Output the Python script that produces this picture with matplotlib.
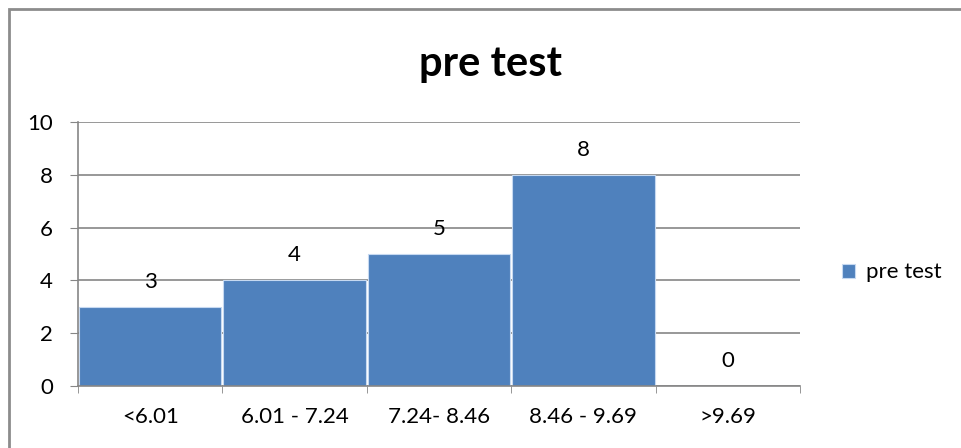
import matplotlib
matplotlib.use("Agg")
import matplotlib.pyplot as plt
from matplotlib.patches import Rectangle

# data
categories = ["<6.01", "6.01 - 7.24", "7.24- 8.46", "8.46 - 9.69", ">9.69"]
counts = [3, 4, 5, 8, 0]
series_name = "pre test"

plt.rcParams["font.family"] = ["Lato", "DejaVu Sans"]

fig = plt.figure(figsize=(9.61, 4.48), dpi=100)

# outer chart border (left and top visible)
fig.patches.append(Rectangle((9 / 961, -0.1), 1.2, 1 - 9 / 448 + 0.1,
                             transform=fig.transFigure, fill=False,
                             edgecolor="#8c8c8c", linewidth=2))

ax = fig.add_axes([78 / 961, 1 - 386 / 448, (800 - 78) / 961, (386 - 122) / 448])

x = range(len(categories))
bars = ax.bar(x, counts, width=0.985, color="#4f81bd", edgecolor="#c6d9f1",
              linewidth=0.8, label=series_name, zorder=2)

for xi, v in zip(x, counts):
    ax.annotate(str(v), (xi, v), xytext=(0, 11), textcoords="offset points",
                ha="center", va="bottom", fontsize=16)

ax.set_xlim(-0.5, len(categories) - 0.5)
ax.set_ylim(0, 10)
ax.set_yticks(range(0, 11, 2))
ax.set_xticks(list(x))
ax.set_xticklabels(categories)
ax.set_xticks([i - 0.5 for i in range(len(categories) + 1)], minor=True)
ax.tick_params(axis="x", which="major", length=0, pad=15, labelsize=16)
ax.tick_params(axis="x", which="minor", length=5, color="#868686")
ax.tick_params(axis="y", length=6, color="#868686", pad=12, labelsize=16)

ax.yaxis.grid(True, color="#868686", linewidth=1.2, zorder=0)
ax.set_axisbelow(True)
for s in ["top", "right"]:
    ax.spines[s].set_visible(False)
for s in ["left", "bottom"]:
    ax.spines[s].set_color("#868686")
    ax.spines[s].set_linewidth(1.2)

fig.text(490 / 961, 1 - 64 / 448, "pre test", ha="center", va="center",
         fontsize=30, fontweight="bold")

ax.legend(loc="center left", bbox_to_anchor=(1.03, 0.43), frameon=False,
          fontsize=16, handlelength=0.6, handleheight=0.6, handletextpad=0.5)

fig.savefig("out.png", dpi=100)
